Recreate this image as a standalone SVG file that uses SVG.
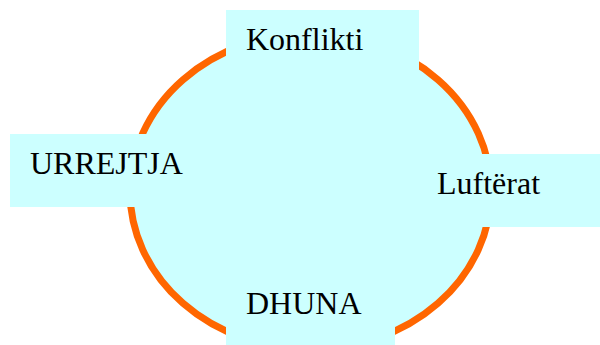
<svg xmlns="http://www.w3.org/2000/svg" width="600" height="345" viewBox="0 0 600 345">
<style>
.box{fill:#CCFFFF;stroke:none}
.lbl{font-family:"Liberation Serif","Times New Roman",serif;font-size:32px;fill:#000}
</style>
<rect width="600" height="345" fill="#fff"/>
<g id="connectors">
<ellipse cx="310.5" cy="191.5" rx="180.5" ry="158" fill="#CCFFFF" stroke="#FF6600" stroke-width="7"/>
</g>
<g id="konflikti">
<rect class="box" x="226" y="10" width="193" height="70"/>
<text class="lbl" x="246" y="50">Konflikti</text>
</g>
<g id="urrejtja">
<rect class="box" x="10" y="134" width="185" height="73"/>
<text class="lbl" x="30" y="174">URREJTJA</text>
</g>
<g id="lufterat">
<rect class="box" x="415" y="154" width="185" height="73"/>
<text class="lbl" x="437" y="194">Luftërat</text>
</g>
<g id="dhuna">
<rect class="box" x="226" y="275" width="169" height="70"/>
<text class="lbl" x="246" y="314">DHUNA</text>
</g>
</svg>
